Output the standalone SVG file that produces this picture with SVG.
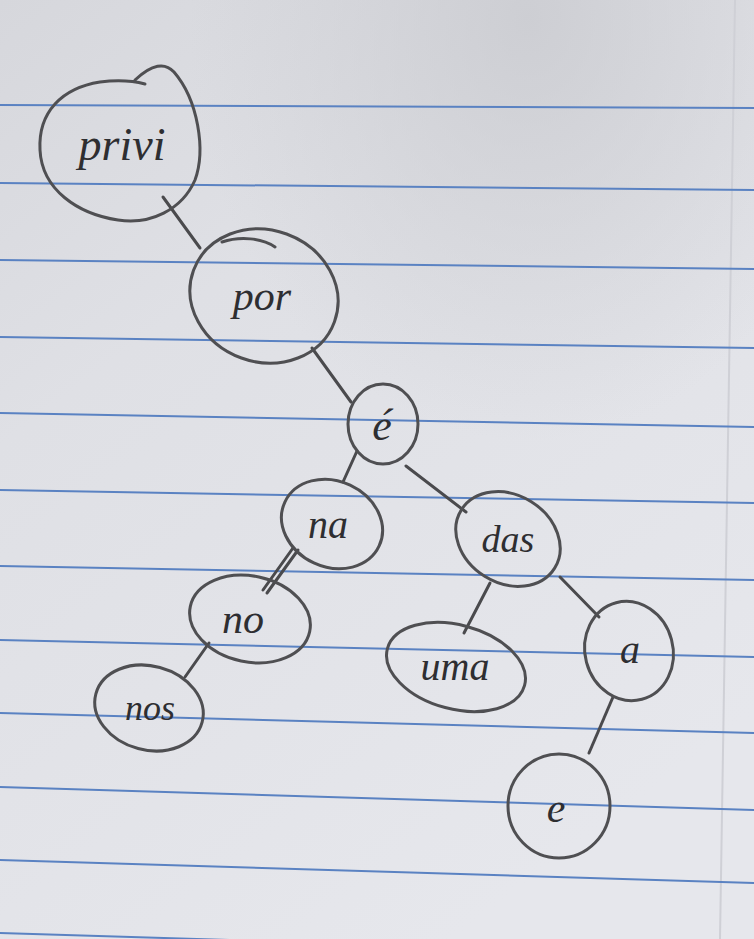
<svg xmlns="http://www.w3.org/2000/svg" width="754" height="939" viewBox="0 0 754 939">
<defs>
<linearGradient id="paper" x1="0" y1="0" x2="0.6" y2="1">
<stop offset="0" stop-color="#d6d7dc"/>
<stop offset="0.35" stop-color="#dfe0e5"/>
<stop offset="1" stop-color="#e6e7ec"/>
</linearGradient>
<radialGradient id="shade" cx="0.7" cy="0.02" r="0.45">
<stop offset="0" stop-color="#c9cacf" stop-opacity="0.8"/>
<stop offset="1" stop-color="#c9cacf" stop-opacity="0"/>
</radialGradient>
</defs>
<style>
.rule{stroke:#5a82c2;stroke-width:2;fill:none}
.node{fill:none;stroke:#4f4f52;stroke-width:3;stroke-linecap:round}
.edge{stroke:#4a4a4d;stroke-width:3;fill:none;stroke-linecap:round}
.lbl{font-family:"Liberation Serif","DejaVu Serif",serif;font-style:italic;fill:#2e2e31;text-anchor:middle}
</style>
<rect x="0" y="0" width="754" height="939" fill="url(#paper)"/>
<rect x="0" y="0" width="754" height="939" fill="url(#shade)"/>
<line x1="735" y1="0" x2="720" y2="939" stroke="#cfd0d6" stroke-width="2"/>
<g id="paper-lines">
<line class="rule" x1="0" y1="105" x2="754" y2="108"/>
<line class="rule" x1="0" y1="183" x2="754" y2="190"/>
<line class="rule" x1="0" y1="260" x2="754" y2="269"/>
<line class="rule" x1="0" y1="337" x2="754" y2="348"/>
<line class="rule" x1="0" y1="413" x2="754" y2="427"/>
<line class="rule" x1="0" y1="490" x2="754" y2="503"/>
<line class="rule" x1="0" y1="566" x2="754" y2="580"/>
<line class="rule" x1="0" y1="640" x2="754" y2="657"/>
<line class="rule" x1="0" y1="713" x2="754" y2="733"/>
<line class="rule" x1="0" y1="787" x2="754" y2="810"/>
<line class="rule" x1="0" y1="860" x2="754" y2="883"/>
<line class="rule" x1="0" y1="933" x2="754" y2="956"/>
</g>
<g id="connectors">
<line class="edge" x1="163" y1="197" x2="200" y2="248"/>
<line class="edge" x1="312" y1="348" x2="351" y2="402"/>
<line class="edge" x1="357" y1="451" x2="343" y2="482"/>
<line class="edge" x1="406" y1="466" x2="466" y2="512"/>
<line class="edge" x1="298" y1="550" x2="267" y2="593"/>
<line class="edge" x1="293" y1="548" x2="263" y2="590"/>
<line class="edge" x1="209" y1="643" x2="185" y2="677"/>
<line class="edge" x1="490" y1="583" x2="464" y2="633"/>
<line class="edge" x1="560" y1="577" x2="599" y2="617"/>
<line class="edge" x1="613" y1="697" x2="589" y2="753"/>
</g>
<g id="n-privi">
<path class="node" d="M135,80 C152,64 165,62 174,72 C198,100 206,150 195,180 C182,210 150,225 118,220 C78,214 42,190 40,150 C38,112 62,88 100,82 C115,80 130,80 145,84"/>
<text class="lbl" x="122" y="160" font-size="46">privi</text>
</g>
<g id="n-por">
<ellipse class="node" cx="264" cy="296" rx="75" ry="66" transform="rotate(20 264 296)"/>
<path class="node" d="M222,242 C240,236 262,238 275,247"/>
<text class="lbl" x="262" y="310" font-size="42">por</text>
</g>
<g id="n-e1">
<ellipse class="node" cx="383" cy="424" rx="35" ry="40"/>
<text class="lbl" x="382" y="440" font-size="44">é</text>
</g>
<g id="n-na">
<ellipse class="node" cx="332" cy="524" rx="52" ry="43" transform="rotate(25 332 524)"/>
<text class="lbl" x="328" y="538" font-size="40">na</text>
</g>
<g id="n-das">
<ellipse class="node" cx="508" cy="539" rx="55" ry="44" transform="rotate(32 508 539)"/>
<text class="lbl" x="508" y="552" font-size="38">das</text>
</g>
<g id="n-no">
<ellipse class="node" cx="250" cy="619" rx="61" ry="43" transform="rotate(12 250 619)"/>
<text class="lbl" x="243" y="633" font-size="42">no</text>
</g>
<g id="n-uma">
<ellipse class="node" cx="456" cy="667" rx="71" ry="42" transform="rotate(15 456 667)"/>
<text class="lbl" x="455" y="680" font-size="40">uma</text>
</g>
<g id="n-a">
<ellipse class="node" cx="629" cy="651" rx="44" ry="50" transform="rotate(-15 629 651)"/>
<text class="lbl" x="630" y="663" font-size="40">a</text>
</g>
<g id="n-nos">
<ellipse class="node" cx="149" cy="708" rx="55" ry="42" transform="rotate(15 149 708)"/>
<text class="lbl" x="150" y="720" font-size="36">nos</text>
</g>
<g id="n-e2">
<ellipse class="node" cx="559" cy="806" rx="51" ry="52"/>
<text class="lbl" x="556" y="822" font-size="42">e</text>
</g>
</svg>
